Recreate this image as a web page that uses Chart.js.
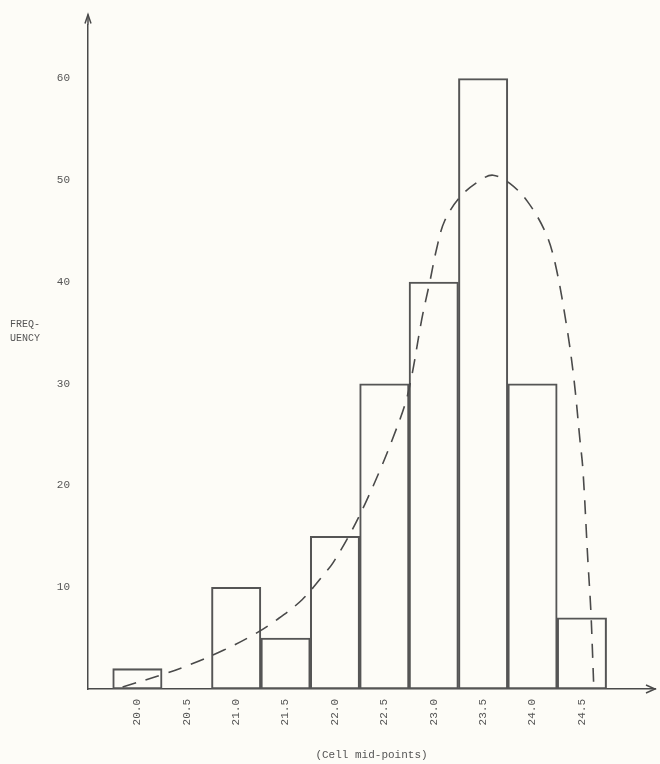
<!DOCTYPE html>
<html>
<head>
<meta charset="utf-8">
<script src="https://cdn.jsdelivr.net/npm/chart.js@4.4.1/dist/chart.umd.min.js"></script>
<style>
  html, body { margin: 0; padding: 0; background: #fdfcf7; }
  #wrap { width: 660px; height: 764px; }
</style>
</head>
<body>
<div id="wrap"><canvas id="hist" width="660" height="764"></canvas></div>
<script>
// cell mid-points and frequencies
const midPoints = [20.0, 20.5, 21.0, 21.5, 22.0, 22.5, 23.0, 23.5, 24.0, 24.5];
const frequency = [2, 0, 10, 5, 15, 30, 40, 60, 30, 7];
const xTickLabels = ['20.0', '20.5', '21.0', '21.5', '22.0', '22.5', '23.0', '23.5', '24.0', '24.5'];
const yTicks = [10, 20, 30, 40, 50, 60];

// fitted curve (dashed)
const curveX = [19.85, 20.25, 20.56, 20.87, 21.17, 21.41, 21.67, 21.9, 21.98, 22.15, 22.3, 22.46, 22.58, 22.71, 22.78,
  22.88, 22.96, 23.03, 23.11, 23.27, 23.47, 23.6, 23.77, 23.95, 24.13, 24.23, 24.35, 24.42, 24.48, 24.51, 24.56, 24.59, 24.61, 24.62];
const curveY = [0.2, 1.4, 2.5, 3.8, 5.3, 6.8, 8.8, 11.4, 12.4, 15.2, 18.1, 21.6, 24.5, 28.0, 30.9,
  36.4, 40.0, 43.3, 46.0, 48.4, 50.0, 50.5, 49.7, 47.9, 44.9, 41.8, 35.4, 30.4, 24.5, 21.6, 12.7, 7.8, 2.9, 0.2];

const ink = '#4a4a4a';
const font = { family: '"Liberation Mono", "DejaVu Sans Mono", monospace', size: 11 };

const barData = midPoints.map((m, i) => ({ x: m, y: frequency[i] }));
const curveData = curveX.map((x, i) => ({ x: x, y: curveY[i] }));

// arrow heads on the axes and the side label
const extras = {
  id: 'extras',
  afterDraw(chart) {
    const { ctx, chartArea } = chart;
    const ys = chart.scales.y;
    const tipY = chartArea.top - 10;
    ctx.save();
    ctx.strokeStyle = ink;
    ctx.fillStyle = ink;
    ctx.lineWidth = 1.5;
    // y arrow (axis runs a little past the scale)
    ctx.beginPath();
    ctx.moveTo(chartArea.left, chartArea.top);
    ctx.lineTo(chartArea.left, tipY);
    ctx.stroke();
    ctx.beginPath();
    ctx.moveTo(chartArea.left - 3, tipY + 9);
    ctx.lineTo(chartArea.left, tipY);
    ctx.lineTo(chartArea.left + 3, tipY + 9);
    ctx.stroke();
    // x arrow
    ctx.beginPath();
    ctx.moveTo(chartArea.right - 9, chartArea.bottom - 4);
    ctx.lineTo(chartArea.right, chartArea.bottom);
    ctx.lineTo(chartArea.right - 9, chartArea.bottom + 4);
    ctx.stroke();
    // side label
    ctx.font = '10px ' + font.family;
    ctx.textAlign = 'left';
    ctx.textBaseline = 'middle';
    ctx.fillStyle = '#555';
    ctx.fillText('FREQ-', 10, ys.getPixelForValue(35.8));
    ctx.fillText('UENCY', 10, ys.getPixelForValue(34.5));
    ctx.restore();
  }
};

new Chart(document.getElementById('hist'), {
  type: 'bar',
  data: {
    datasets: [
      {
        type: 'line',
        data: curveData,
        borderColor: ink,
        borderWidth: 1.6,
        borderDash: [14, 10],
        pointRadius: 0,
        tension: 0.35,
        fill: false,
      },
      {
        data: barData,
        backgroundColor: 'rgba(0,0,0,0)',
        borderColor: '#555',
        borderWidth: 1.4,
        borderSkipped: false,
        barPercentage: 1,
        categoryPercentage: 1,
      },
    ],
  },
  options: {
    responsive: false,
    animation: false,
    layout: { padding: { top: 5, right: 5, left: 0, bottom: 0 } },
    plugins: { legend: { display: false }, tooltip: { enabled: false } },
    scales: {
      x: {
        type: 'linear',
        offset: false,
        min: 19.5,
        max: 25.24,
        grid: { display: false, drawTicks: false, offset: false },
        border: { display: true, color: ink, width: 1.5 },
        afterBuildTicks: (scale) => { scale.ticks = midPoints.map((v) => ({ value: v })); },
        afterFit: (scale) => { scale.height = 75; },
        ticks: {
          autoSkip: false,
          minRotation: 90,
          maxRotation: 90,
          padding: 10,
          color: '#555',
          font: font,
          callback: (v) => xTickLabels[midPoints.indexOf(v)],
        },
        title: {
          display: true,
          text: '(Cell mid-points)',
          color: '#555',
          font: font,
          padding: { top: 0, bottom: 2 },
        },
      },
      y: {
        min: 0,
        max: 65.3,
        grid: { display: false, drawTicks: false },
        border: { display: true, color: ink, width: 1.5 },
        afterBuildTicks: (scale) => { scale.ticks = yTicks.map((v) => ({ value: v })); },
        afterFit: (scale) => { scale.width = 88; },
        ticks: { padding: 18, color: '#555', font: font },
      },
    },
  },
  plugins: [extras],
});
</script>
</body>
</html>
